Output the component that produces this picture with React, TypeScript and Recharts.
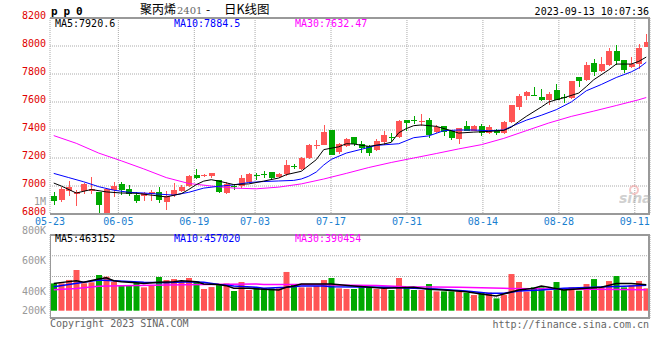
import React from 'react'
import { ComposedChart, Bar, Line, XAxis, YAxis, CartesianGrid, Cell } from 'recharts'

const RED = '#ff5555'
const GREEN = '#00a800'
const MONO = "'DejaVu Sans Mono', monospace"

// 80 daily sessions, 05-23 .. 09-13
const opens = [
	6932, 6902, 6966, 6942, 6964, 6962, 6955, 6790, 6974, 7012,
	6979, 6933, 6926, 6940, 6957, 6883, 6938, 6962, 6997, 7081,
	7069, 7069, 7040, 6950, 7002, 6998, 7027, 7076, 7088, 7102,
	7066, 7084, 7140, 7120, 7200, 7290, 7295, 7402, 7240, 7283,
	7350, 7302, 7288, 7255, 7312, 7350, 7348, 7474, 7472, 7458,
	7474, 7383, 7428, 7395, 7336, 7431, 7395, 7426, 7378, 7402,
	7378, 7454, 7564, 7640, 7650, 7633, 7616, 7688, 7636, 7630,
	7776, 7759, 7878, 7819, 7862, 7966, 7902, 7848, 7871, 7990,
]
const highs = [
	6955, 6993, 7035, 6975, 7021, 7065, 6960, 6988, 7030, 7030,
	7005, 6960, 6960, 6975, 6992, 6961, 7025, 7009, 7081, 7121,
	7086, 7095, 7045, 7028, 7016, 7078, 7095, 7095, 7108, 7102,
	7092, 7188, 7155, 7205, 7298, 7326, 7438, 7402, 7307, 7345,
	7350, 7319, 7295, 7336, 7395, 7379, 7474, 7474, 7502, 7514,
	7486, 7438, 7431, 7398, 7414, 7467, 7436, 7443, 7435, 7409,
	7462, 7581, 7659, 7676, 7709, 7695, 7669, 7731, 7659, 7750,
	7776, 7885, 7909, 7918, 7985, 8004, 7902, 7918, 8014, 8083,
]
const lows = [
	6866, 6883, 6926, 6855, 6940, 6945, 6808, 6780, 6920, 6933,
	6928, 6878, 6890, 6895, 6876, 6826, 6922, 6955, 6990, 7050,
	7062, 7060, 6950, 6940, 6969, 6985, 7020, 7045, 7060, 7045,
	7060, 7075, 7120, 7115, 7195, 7264, 7290, 7220, 7231, 7278,
	7283, 7233, 7217, 7248, 7295, 7314, 7343, 7395, 7440, 7431,
	7343, 7378, 7355, 7330, 7302, 7390, 7390, 7355, 7375, 7366,
	7373, 7452, 7540, 7612, 7640, 7607, 7581, 7614, 7592, 7625,
	7705, 7752, 7783, 7812, 7855, 7862, 7807, 7843, 7835, 7990,
]
const closes = [
	6890, 6982, 6990, 6955, 7014, 6982, 6862, 6982, 7002, 6972,
	6942, 6895, 6950, 6955, 6900, 6931, 6974, 6990, 7069, 7057,
	7081, 7093, 6957, 7016, 6997, 7060, 7083, 7070, 7082, 7060,
	7088, 7152, 7134, 7200, 7295, 7295, 7388, 7224, 7300, 7338,
	7300, 7271, 7236, 7324, 7367, 7345, 7467, 7450, 7466, 7464,
	7367, 7421, 7388, 7343, 7414, 7395, 7431, 7378, 7421, 7378,
	7454, 7581, 7640, 7669, 7647, 7616, 7659, 7616, 7631, 7747,
	7747, 7861, 7812, 7873, 7966, 7895, 7826, 7871, 7985, 8030,
]
const volumes = [
	477000, 477000, 512000, 613000, 478000, 488000, 562000, 545000, 494000, 454000,
	454000, 488000, 437000, 451000, 542000, 511000, 521000, 494000, 532000, 501000,
	420000, 440000, 467000, 477000, 400000, 491000, 410000, 437000, 427000, 427000,
	427000, 593000, 467000, 437000, 437000, 450000, 511000, 532000, 427000, 420000,
	420000, 437000, 437000, 420000, 427000, 410000, 532000, 437000, 410000, 410000,
	471000, 396000, 396000, 396000, 396000, 383000, 359000, 383000, 383000, 325000,
	359000, 572000, 491000, 393000, 437000, 437000, 403000, 491000, 427000, 437000,
	403000, 471000, 521000, 437000, 501000, 552000, 437000, 460000, 501000, 427000,
]

// moving averages as [session, value]
const ma5 = [
	[0, 7021], [1, 7000], [3, 6950], [5, 6975], [7, 6958], [9, 6950], [11, 6948], [13, 6935],
	[15, 6922], [17, 6945], [18, 6975], [19, 7010], [20, 7035], [21, 7045], [22, 7035], [24, 7010],
	[26, 7015], [28, 7035], [30, 7057], [31, 7081], [33, 7105], [35, 7188], [36, 7260], [38, 7280],
	[39, 7302], [40, 7300], [42, 7283], [44, 7300], [45, 7312], [46, 7380], [47, 7410], [48, 7431],
	[49, 7436], [51, 7426], [53, 7395], [54, 7378], [56, 7385], [58, 7390], [60, 7397], [61, 7420],
	[62, 7460], [63, 7497], [65, 7564], [66, 7600], [67, 7616], [68, 7630], [70, 7664], [71, 7710],
	[72, 7759], [74, 7830], [75, 7871], [77, 7871], [78, 7890], [79, 7921],
]
const ma10 = [
	[0, 7090], [2, 7060], [4, 7030], [6, 6995], [8, 6970], [10, 6955], [12, 6950], [14, 6942],
	[16, 6935], [18, 6955], [20, 6985], [22, 6998], [24, 7008], [26, 7025], [28, 7032], [30, 7036],
	[32, 7040], [33, 7050], [34, 7070], [35, 7100], [36, 7150], [37, 7190], [39, 7235], [41, 7262],
	[43, 7290], [46, 7302], [48, 7345], [50, 7358], [52, 7395], [54, 7400], [56, 7400], [58, 7395],
	[60, 7400], [61, 7425], [63, 7470], [65, 7505], [67, 7545], [69, 7600], [71, 7680], [73, 7725],
	[75, 7775], [77, 7815], [78, 7843], [79, 7884],
]
const ma30 = [
	[0, 7360], [3, 7305], [6, 7235], [9, 7180], [12, 7122], [15, 7060], [18, 7018], [21, 7000],
	[24, 6985], [27, 6980], [30, 6992], [33, 7015], [36, 7050], [39, 7090], [42, 7132], [45, 7168],
	[48, 7200], [51, 7232], [54, 7265], [57, 7295], [60, 7340], [63, 7395], [66, 7450], [69, 7497],
	[72, 7535], [75, 7575], [78, 7616], [79, 7632],
]
const volMa5 = [
	[0, 477000], [2, 495000], [3, 504000], [4, 490000], [6, 521000], [7, 535000], [8, 504000],
	[9, 494000], [11, 484000], [12, 477000], [14, 488000], [16, 494000], [17, 504000], [19, 494000],
	[20, 471000], [22, 467000], [23, 454000], [24, 427000], [26, 427000], [28, 417000], [30, 410000],
	[31, 437000], [32, 450000], [33, 471000], [37, 471000], [40, 450000], [44, 427000], [48, 437000],
	[50, 417000], [52, 410000], [55, 393000], [57, 369000], [59, 349000], [60, 369000], [62, 410000],
	[64, 427000], [65, 450000], [66, 437000], [68, 410000], [71, 427000], [73, 437000], [75, 477000],
	[77, 477000], [79, 463000],
]
const volMa10 = [
	[0, 444000], [2, 467000], [4, 488000], [6, 511000], [8, 504000], [12, 488000], [15, 484000],
	[18, 494000], [20, 488000], [22, 467000], [24, 450000], [27, 437000], [28, 427000], [31, 437000],
	[33, 450000], [36, 450000], [37, 444000], [44, 437000], [48, 427000], [51, 420000], [55, 400000],
	[58, 376000], [60, 376000], [62, 400000], [65, 410000], [68, 427000], [72, 437000], [77, 450000],
	[79, 457000],
]
const volMa30 = [
	[0, 413000], [3, 425000], [6, 448000], [9, 454000], [15, 460000], [20, 465000], [27, 472000],
	[28, 467000], [36, 465000], [37, 461000], [43, 455000], [47, 444000], [54, 437000], [60, 427000],
	[67, 420000], [72, 417000], [79, 412000],
]

const dateLabels = ['05-23', '06-05', '06-19', '07-03', '07-17', '07-31', '08-14', '08-28', '09-11']
const dateIdx = [0, 9, 19, 27, 37, 47, 57, 67, 77]
const priceTicks = [6800, 7000, 7200, 7400, 7600, 7800, 8000, 8200]
const volLabels = ['800K', '600K', '400K', '200K']
const volLabelY = [234, 264, 295, 314]
const volFloor = 200000

const N = opens.length
const candles = opens.map((o, i) => ({ i, o, h: highs[i], l: lows[i], c: closes[i], vol: volumes[i] }))
const pts = (arr: number[][]) => arr.map(([i, v]) => ({ i, v }))
// sina spaces the date grid over N-1 steps while bars use N slots
const dateTicks = dateIdx.map((d) => (d * N) / (N - 1) - 0.5)
const xDomain = [-0.5, N - 0.5]

const Candle = (p: any) => {
	const { x, y, width, height, payload } = p
	const top = Math.min(y, y + height)
	const h = Math.abs(height)
	const k = payload.h > payload.l ? h / (payload.h - payload.l) : 0
	const color = payload.c >= payload.o ? RED : GREEN
	const bTop = top + (payload.h - Math.max(payload.o, payload.c)) * k
	const bH = Math.max(1, Math.abs(payload.o - payload.c) * k)
	const cx = Math.floor(x + width / 2) + 0.5
	return (
		<g shapeRendering="crispEdges">
			<line x1={cx} x2={cx} y1={top} y2={top + h} stroke={color} />
			<rect x={x} y={bTop} width={width} height={bH} fill={color} />
		</g>
	)
}

const PriceTick = (p: any) => (
	<text x={p.x} y={p.y + 0.5} textAnchor="end" fill="#e00000" fontSize={10} fontFamily={MONO}>
		{p.payload.value}
	</text>
)

const DateTick = (p: any) => (
	<text x={p.x} y={p.y + 11} textAnchor="middle" fill="#1a80d0" fontSize={10} fontFamily={MONO}>
		{dateLabels[p.index]}
	</text>
)

const line = (data: number[][], color: string, w = 1) => (
	<Line
		data={pts(data)}
		dataKey="v"
		type="linear"
		stroke={color}
		strokeWidth={w}
		dot={false}
		activeDot={false}
		isAnimationActive={false}
	/>
)

export default function App() {
	return (
		<div style={{ position: 'absolute', left: 0, top: 0, width: 660, height: 360, background: '#fff', overflow: 'hidden' }}>
			<div style={{ position: 'absolute', left: 0, top: 0 }}>
				<ComposedChart width={660} height={230} data={candles} margin={{ top: 18, right: 10, bottom: 0, left: 0 }}>
					<CartesianGrid stroke="#aaa" strokeDasharray="1 1" />
					<XAxis
						type="number"
						dataKey="i"
						domain={xDomain}
						ticks={dateTicks}
						interval={0}
						allowDataOverflow
						height={16}
						axisLine={false}
						tickLine={false}
						tickSize={0}
						tickMargin={0}
						tick={<DateTick />}
					/>
					<YAxis
						domain={[6800, 8200]}
						ticks={priceTicks}
						interval={0}
						allowDataOverflow
						width={50}
						axisLine={false}
						tickLine={false}
						tickSize={0}
						tickMargin={4}
						tick={<PriceTick />}
					/>
					<Bar dataKey={(d: any) => [d.l, d.h]} barSize={6} shape={<Candle />} isAnimationActive={false} />
					{line(ma30, '#ff00ff')}
					{line(ma10, '#0000ff')}
					{line(ma5, '#000000')}
				</ComposedChart>
			</div>
			<div style={{ position: 'absolute', left: 0, top: 230 }}>
				<ComposedChart width={660} height={90} data={candles} margin={{ top: 5, right: 10, bottom: 2, left: 50 }}>
					<CartesianGrid
						stroke="#aaa"
						strokeDasharray="1 1"
						horizontalCoordinatesGenerator={({ offset }: any) => [1, 2, 3].map((q) => offset.top + (offset.height * q) / 4)}
					/>
					<XAxis
						type="number"
						dataKey="i"
						domain={xDomain}
						ticks={dateTicks}
						interval={0}
						allowDataOverflow
						height={0}
						axisLine={false}
						tickLine={false}
						tick={false}
					/>
					<YAxis hide domain={[126000, 968000]} allowDataOverflow />
					<Bar dataKey={(d: any) => [volFloor, d.vol]} barSize={6} isAnimationActive={false}>
						{candles.map((d) => (
							<Cell key={d.i} fill={d.c >= d.o ? RED : GREEN} />
						))}
					</Bar>
					{line(volMa30, '#ff00ff', 1.5)}
					{line(volMa10, '#0000ff', 1.5)}
					{line(volMa5, '#000000', 1.5)}
				</ComposedChart>
			</div>

			<div style={{ position: 'absolute', left: 50, top: 17, width: 600, height: 198, boxSizing: 'border-box', borderTop: '2px solid #999', borderRight: '2px solid #999', borderBottom: '2px solid #999' }} />
			<div style={{ position: 'absolute', left: 50, top: 234, width: 600, height: 85, boxSizing: 'border-box', borderTop: '2px solid #999', borderRight: '2px solid #999', borderBottom: '2px solid #999', borderLeft: '1px solid #999' }} />

			<svg width={660} height={360} style={{ position: 'absolute', left: 0, top: 0, pointerEvents: 'none' }}>
				<text x={51} y={15} fontFamily={MONO} fontWeight="bold" fontSize={11} letterSpacing={-0.4}>p p 0</text>
				<text x={140} y={14} fontFamily="'Noto Sans CJK SC'" fontSize={12}>聚丙烯</text>
				<text x={177} y={14} fontFamily="'DejaVu Serif'" fontSize={10} fill="#666">2401</text>
				<text x={206} y={14} fontFamily="'Noto Sans CJK SC'" fontSize={12}>-</text>
				<text x={224} y={14} fontFamily="'Noto Sans CJK SC'" fontSize={12.5}>日K线图</text>
				<text x={649} y={15} textAnchor="end" fontFamily={MONO} fontSize={10}>2023-09-13 10:07:36</text>

				<text x={55} y={27} fontFamily={MONO} fontSize={10} fill="#000">MA5:7920.6</text>
				<text x={174} y={27} fontFamily={MONO} fontSize={10} fill="#0000ff">MA10:7884.5</text>
				<text x={295} y={27} fontFamily={MONO} fontSize={10} fill="#ff00ff">MA30:7632.47</text>

				<text x={46} y={205} textAnchor="end" fontFamily={MONO} fontSize={10} fill="#999">1M</text>

				<g opacity={0.55}>
					<circle cx={634} cy={190} r={4} fill="none" stroke="#f29a9a" strokeWidth={2} />
					<text x={619} y={203} fontFamily="'DejaVu Sans'" fontStyle="italic" fontWeight="bold" fontSize={14} fill="#aaa">sina</text>
				</g>

				<text x={55} y={242} fontFamily={MONO} fontSize={10} fill="#000">MA5:463152</text>
				<text x={174} y={242} fontFamily={MONO} fontSize={10} fill="#0000ff">MA10:457020</text>
				<text x={295} y={242} fontFamily={MONO} fontSize={10} fill="#ff00ff">MA30:390454</text>
				{volLabels.map((t, k) => (
					<text key={t} x={46} y={volLabelY[k]} textAnchor="end" fontFamily={MONO} fontSize={10} fill="#999">{t}</text>
				))}

				<text x={50} y={327} fontFamily={MONO} fontSize={10} fill="#666">Copyright 2023 SINA.COM</text>
				<text x={649} y={328} textAnchor="end" fontFamily={MONO} fontSize={10} fill="#666">http://finance.sina.com.cn</text>
			</svg>
		</div>
	)
}
